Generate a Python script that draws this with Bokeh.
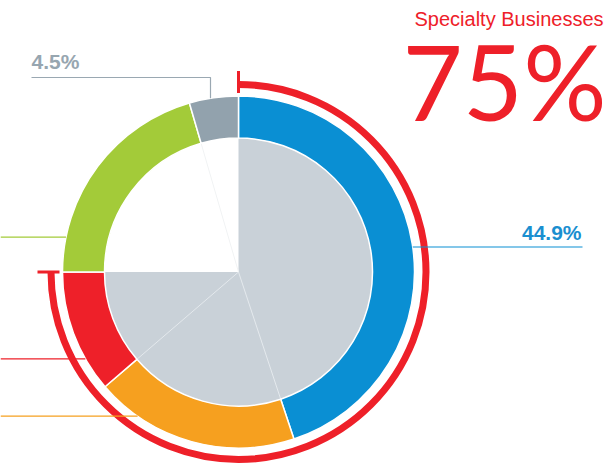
import math
import numpy as np
from bokeh.plotting import figure
from bokeh.models import Range1d
from bokeh.embed import file_html
from bokeh.resources import INLINE
from bokeh.core.properties import value

# ---- data ----
segments = ["Specialty A", "Specialty B", "Specialty C", "Other", "Corporate"]
shares = [44.9, 18.8, 11.3, 20.5, 4.5]
colors = ["#0A8FD3", "#F6A01F", "#EE2029", "#A3CB39", "#92A2AD"]
label_texts = ["44.9%", None, None, None, "4.5%"]
headline_title = "Specialty Businesses"
headline_value = "75%"
specialty_count = 3  # first three segments form the specialty share

# ---- layout (data space: x = page x, y = -page y) ----
W, H = 609, 464
CX, CY = 238, -271.5
R_OUT, R_IN = 176, 134
R_ARC = 187.5
RED = "#EE2029"
BASE_FIX = 0.4  # em correction for alphabetic baseline placement

p = figure(width=W, height=H, output_backend="svg", toolbar_location=None,
           x_range=Range1d(0, W), y_range=Range1d(-H, 0),
           min_border=0, outline_line_color=None)
p.axis.visible = False
p.grid.visible = False


def txt(x, y_base, s, size, color, font="Liberation Sans", bold=False, align="left"):
    p.text(x=[x], y=[-(y_base - BASE_FIX * size)], text=[s], text_align=align,
           text_baseline="alphabetic", text_font=value(font),
           text_font_style="bold" if bold else "normal",
           text_font_size=f"{size}px", text_color=color)


fr = np.array(shares) / sum(shares)
cum = np.concatenate([[0], np.cumsum(fr)])
ang = math.pi / 2 - 2 * math.pi * cum   # clockwise from 12 o'clock

# inner grey pie (specialty share)
p.wedge(x=CX, y=CY, radius=R_IN, start_angle=ang[0], end_angle=ang[specialty_count],
        direction="clock", fill_color="#C9D1D8", line_color=None)

# faint radial lines inside
for i in range(1, len(shares)):
    if i == specialty_count:
        continue
    a = ang[i]
    col = "#E4E9ED" if i < specialty_count else "#F1F3F4"
    p.segment(x0=CX, y0=CY, x1=CX + R_IN * math.cos(a), y1=CY + R_IN * math.sin(a),
              line_color=col, line_width=1)

# donut ring
p.annular_wedge(x=CX, y=CY, inner_radius=R_IN, outer_radius=R_OUT,
                start_angle=ang[:-1], end_angle=ang[1:], direction="clock",
                fill_color=colors, line_color="white", line_width=1.5)

# red bracket arc for specialty share
a0, a1 = ang[0], ang[specialty_count]
p.arc(x=CX, y=CY, radius=R_ARC, start_angle=a0, end_angle=a1, direction="clock",
      line_color=RED, line_width=7)
for a in (a0, a1):
    p.segment(x0=CX + 179 * math.cos(a), y0=CY + 179 * math.sin(a),
              x1=CX + 201 * math.cos(a), y1=CY + 201 * math.sin(a),
              line_color=RED, line_width=3)


def edge_x(y, side):
    dy = y - CY
    return CX + side * math.sqrt(max(R_OUT ** 2 - dy ** 2, 0))


# blue leader + label (right)
yb = -246.5
p.segment(x0=edge_x(yb, 1), y0=yb, x1=582, y1=yb, line_color=colors[0], line_width=1.2)
txt(581, 240, label_texts[0], 21, "#1A8FD0", bold=True, align="right")

# grey leader + label (top-left)
xg, yg = 210, -77
p.line(x=[31, xg, xg], y=[yg, yg, CY + math.sqrt(R_OUT ** 2 - (xg - CX) ** 2)],
       line_color="#9AA8B2", line_width=1.2)
txt(31, 69, label_texts[4], 21, "#97A6B0", bold=True)

# left leaders (labels off-canvas)
for idx, yl in ((3, -236.7), (2, -358.3), (1, -415.7)):
    p.segment(x0=0, y0=yl, x1=edge_x(yl, -1), y1=yl, line_color=colors[idx], line_width=1.2)

# headline
txt(603, 26.5, headline_title, 20, RED, align="right")
txt(606, 122, headline_value, 104, RED, font="Lato", align="right")

open("out.html", "w").write(file_html(p, INLINE))
